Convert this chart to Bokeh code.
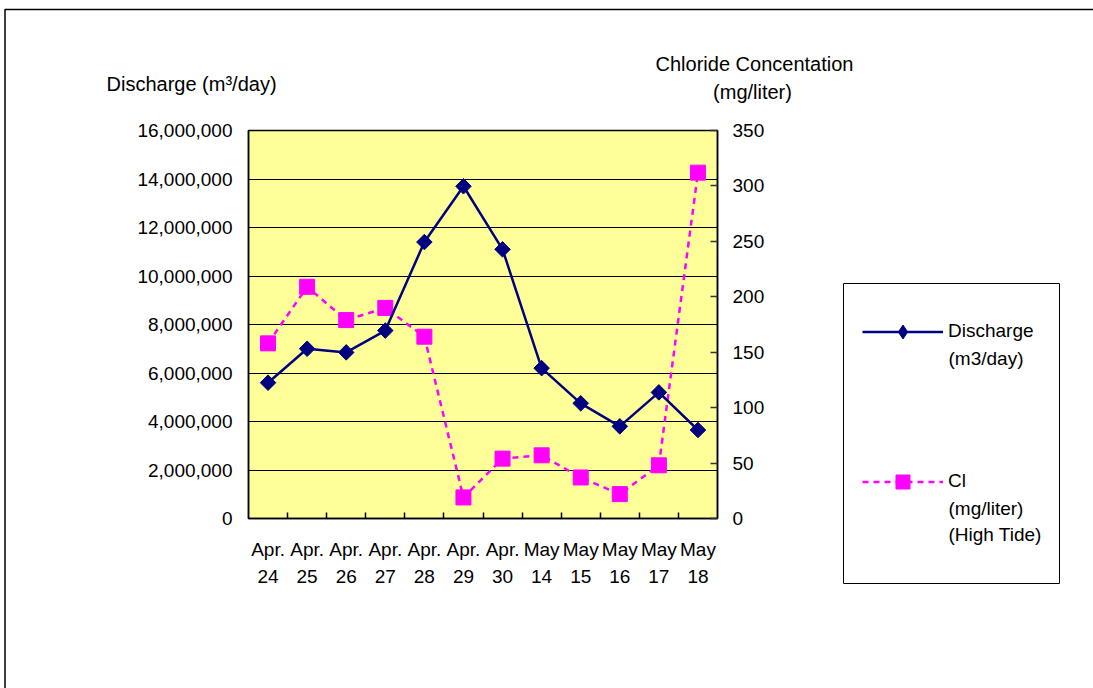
import math

from bokeh.embed import file_html
from bokeh.models import (BoxAnnotation, FixedTicker, Grid, Label, Legend, LegendItem,
                          LinearAxis, NumeralTickFormatter, Range1d, SingleIntervalTicker)
from bokeh.plotting import figure
from bokeh.resources import INLINE

# Sampling dates (two-line tick labels)
dates = ["Apr.\n24", "Apr.\n25", "Apr.\n26", "Apr.\n27", "Apr.\n28", "Apr.\n29",
         "Apr.\n30", "May\n14", "May\n15", "May\n16", "May\n17", "May\n18"]

# Discharge, m3/day
discharge = [5600000, 7000000, 6850000, 7750000, 11400000, 13700000,
             11100000, 6200000, 4750000, 3800000, 5200000, 3650000]

# Chloride concentration at high tide, mg/liter
chloride = [158, 209, 179, 190, 164, 19, 54, 57, 37, 22, 48, 312]

# Legend text: first line next to the key, the rest underneath
q_legend = ["Discharge", "(m3/day)"]
cl_legend = ["Cl", "(mg/liter)", "(High Tide)"]

Q_MAX = 16000000
CL_MAX = 350

FONT = "Liberation Sans"
NAVY = "#000080"
MAGENTA = "#FF00FF"
YELLOW = "#FFFF99"

# Canvas size and the plot box inside it (pixels from the top-left corner)
W, H = 1093, 688
PL, PR, PT, PB = 248, 717, 130, 518
# Legend box and its two key rows
LG_L, LG_R, LG_T, LG_B = 843, 1059, 283, 583
KEY_Y = [331, 481]
LINE_STEP = 26.5
KEY_H = 35

n = len(dates)
xs = [i + 0.5 for i in range(n)]


def canvas_range(lo, hi, p_lo, p_hi, size):
    """Range spanning the whole canvas so that [lo, hi] lands on pixels [p_lo, p_hi]."""
    per_px = (hi - lo) / (p_hi - p_lo)
    return Range1d(lo - p_lo * per_px, hi + (size - p_hi) * per_px), per_px


xr, x_per = canvas_range(0, n, PL, PR, W)
yr, y_per = canvas_range(0, Q_MAX, H - PB, H - PT, H)
clr, _ = canvas_range(0, CL_MAX, H - PB, H - PT, H)


def xd(px):
    return xr.start + px * x_per


def yd(py):
    return yr.start + (H - py) * y_per


p = figure(width=W, height=H, output_backend="svg", toolbar_location=None,
           x_range=xr, y_range=yr, x_axis_location=None, y_axis_location=None,
           min_border=0, outline_line_color=None,
           background_fill_color="white", border_fill_color="white")
p.xgrid.visible = False
p.ygrid.visible = False
p.extra_y_ranges = {"cl": clr}

box_line = dict(line_color="black", line_alpha=1, level="underlay")

# Outer chart border (only its top and left edges fall on the page)
p.add_layout(BoxAnnotation(left=xd(4.5), right=xd(W + 60), top=yd(9), bottom=yd(H + 60),
                           fill_alpha=0, line_width=1.5, **box_line))

# Plot area
p.add_layout(BoxAnnotation(left=0, right=n, bottom=0, top=Q_MAX,
                           fill_color=YELLOW, fill_alpha=1, line_width=1.5, **box_line))

q_ticker = SingleIntervalTicker(interval=2000000, num_minor_ticks=0)
p.add_layout(Grid(dimension=1, ticker=q_ticker, bounds=(0, Q_MAX), cross_bounds=(0, n),
                  grid_line_color="black", grid_line_width=1))

label_style = dict(major_label_text_font=FONT, major_label_text_font_size="19px",
                   major_label_text_color="black", axis_line_color="black",
                   axis_line_width=1.5)

# Category axis: labels at the centres, short inward ticks at the boundaries
xa = LinearAxis(fixed_location=0, bounds=(0, n),
                ticker=FixedTicker(ticks=xs, minor_ticks=list(range(1, n))),
                major_label_overrides={x: d for x, d in zip(xs, dates)},
                major_tick_line_color=None, major_tick_in=0, major_tick_out=0,
                minor_tick_in=6, minor_tick_out=0,
                minor_tick_line_color="black", minor_tick_line_width=1.5,
                major_label_standoff=20, major_label_text_line_height=1.32,
                **label_style)
p.add_layout(xa, "below")

ya = LinearAxis(fixed_location=0, bounds=(0, Q_MAX), ticker=q_ticker,
                formatter=NumeralTickFormatter(format="0,0"),
                major_tick_line_color=None, major_tick_in=0, major_tick_out=0,
                minor_tick_line_color=None, major_label_standoff=16, **label_style)
p.add_layout(ya, "left")

ra = LinearAxis(y_range_name="cl", fixed_location=n, bounds=(0, CL_MAX),
                ticker=SingleIntervalTicker(interval=50, num_minor_ticks=0),
                major_tick_in=7, major_tick_out=0, major_tick_line_color="#333333",
                major_tick_line_width=1.5, minor_tick_line_color=None,
                major_label_standoff=15, **label_style)
p.add_layout(ra, "right")

# Chloride series (right axis)
cl_line = p.line(xs, chloride, y_range_name="cl", line_color=MAGENTA,
                 line_width=2.5, line_dash="6 5")
cl_pts = p.scatter(xs, chloride, y_range_name="cl", marker="square", size=15,
                   fill_color=MAGENTA, line_color=MAGENTA)

# Discharge series (left axis)
q_line = p.line(xs, discharge, line_color=NAVY, line_width=2.5)
q_pts = p.scatter(xs, discharge, marker="square", angle=math.pi / 4, size=11,
                  fill_color=NAVY, line_color=NAVY)
# legend key for the discharge markers: a diamond swatch with no plotted point
q_key = p.scatter(x=[float("nan")], y=[float("nan")], marker="diamond",
                  fill_color=NAVY, line_color=NAVY)

# Legend frame
p.add_layout(BoxAnnotation(left=xd(LG_L), right=xd(LG_R), top=yd(LG_T), bottom=yd(LG_B),
                           fill_color="white", fill_alpha=1, line_width=1, **box_line))

legend = Legend(
    items=[LegendItem(label=q_legend[0], renderers=[q_line, q_key]),
           LegendItem(label=cl_legend[0], renderers=[cl_line, cl_pts])],
    location=(862, H - (KEY_Y[1] + KEY_H / 2)), orientation="vertical",
    glyph_width=81, glyph_height=KEY_H, label_standoff=5,
    padding=0, spacing=int(KEY_Y[1] - KEY_Y[0] - KEY_H), margin=0,
    border_line_color=None, background_fill_alpha=0,
    label_text_font=FONT, label_text_font_size="19px", label_text_color="black")
p.add_layout(legend)

# Continuation lines of the legend labels
text_style = dict(text_font=FONT, text_font_size="19px", text_color="black",
                  text_baseline="middle", text_align="left")
for key_y, lines in zip(KEY_Y, [q_legend, cl_legend]):
    for k, line in enumerate(lines[1:], start=1):
        p.add_layout(Label(x=xd(948), y=yd(key_y + k * LINE_STEP), text=line, **text_style))

title_style = dict(text_font=FONT, text_font_size="20px", text_color="black",
                   text_baseline="middle")
p.add_layout(Label(x=xd(106), y=yd(83), text="Discharge (m³/day)",
                   text_align="left", **title_style))
p.add_layout(Label(x=xd(754), y=yd(63), text="Chloride Concentation",
                   text_align="center", **title_style))
p.add_layout(Label(x=xd(752), y=yd(91), text="(mg/liter)",
                   text_align="center", **title_style))

open("out.html", "w").write(file_html(p, INLINE))
